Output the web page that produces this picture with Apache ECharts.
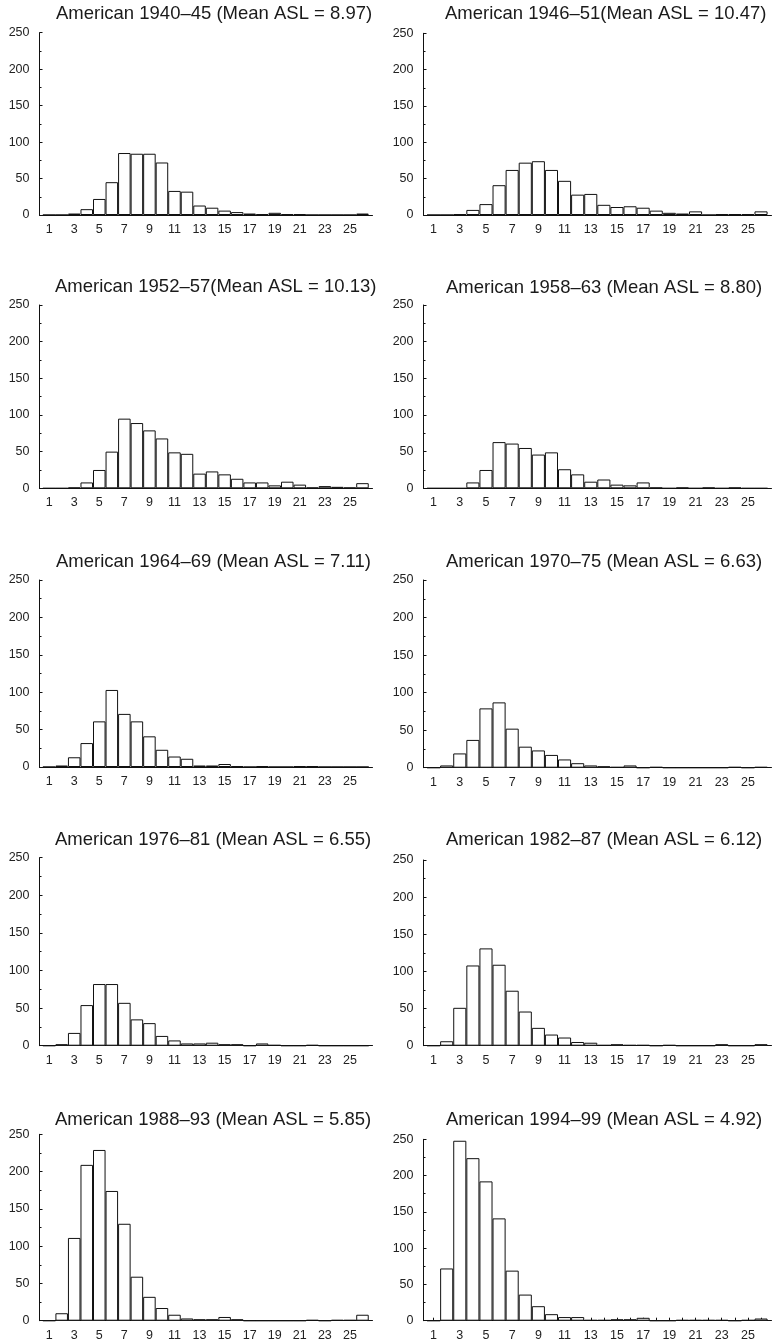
<!DOCTYPE html>
<html>
<head>
<meta charset="utf-8">
<script src="https://cdn.jsdelivr.net/npm/echarts@6/dist/echarts.min.js"></script>
<style>
html,body{margin:0;padding:0;background:#fff}
#main{width:772px;height:1344px}
</style>
</head>
<body>
<div id="main"></div>
<script>
// shot length bins (1..26) and the labels shown under each x axis
var bins = [1,2,3,4,5,6,7,8,9,10,11,12,13,14,15,16,17,18,19,20,21,22,23,24,25,26];
var xLabels = [1,3,5,7,9,11,13,15,17,19,21,23,25];

// counts per bin
var am1940 = [0,0,2,8,22,45,85,84,84,72,33,32,13,10,6,4,2,1,3,1,1,0,0,0,0,2];
var am1946 = [0,0,1,7,15,41,62,72,74,62,47,28,29,14,11,12,10,6,3,2,5,0,1,1,1,5];
var am1952 = [0,0,1,8,25,50,95,89,79,68,49,47,20,23,19,13,8,8,4,9,5,1,3,2,1,7];
var am1958 = [0,0,0,8,25,63,61,55,46,49,26,19,9,12,5,4,8,1,0,1,0,1,0,1,0,0];
var am1964 = [0,2,13,32,61,103,71,61,41,23,14,11,2,2,4,1,0,1,0,0,1,1,0,0,0,0];
var am1970 = [0,3,19,37,79,87,52,28,23,17,11,6,3,2,1,3,0,1,0,0,0,0,0,1,0,1];
var am1976 = [0,2,17,54,82,82,57,35,30,13,7,3,3,4,2,2,0,3,1,0,0,1,0,0,0,0];
var am1982 = [0,6,51,108,131,109,74,46,24,15,11,5,4,1,2,1,1,0,1,0,0,0,2,0,0,2];
var am1988 = [0,10,111,209,229,174,130,59,32,17,8,3,2,2,5,2,0,0,0,0,0,1,0,1,1,8];
var am1994 = [0,72,248,224,192,141,69,36,20,9,5,5,1,1,2,2,4,0,0,1,1,1,1,0,1,3];

var titles = [
    'American 1940\u201345 (Mean ASL = 8.97)',
    'American 1946\u201351(Mean ASL = 10.47)',
    'American 1952\u201357(Mean ASL = 10.13)',
    'American 1958\u201363 (Mean ASL = 8.80)',
    'American 1964\u201369 (Mean ASL = 7.11)',
    'American 1970\u201375 (Mean ASL = 6.63)',
    'American 1976\u201381 (Mean ASL = 6.55)',
    'American 1982\u201387 (Mean ASL = 6.12)',
    'American 1988\u201393 (Mean ASL = 5.85)',
    'American 1994\u201399 (Mean ASL = 4.92)'
];
var panels = [am1940, am1946, am1952, am1958, am1964, am1970, am1976, am1982, am1988, am1994];

// panel boxes: [gridLeft, gridWidth, gridTop, gridHeight, titleLeft, titleTop]
var boxes = [
    [39.5, 333, 32.7, 182.3, 56, 4],
    [423.5, 348, 33.3, 181.7, 445, 4],
    [39.5, 333, 305, 183.3, 55, 277.5],
    [423.5, 348, 305, 183.3, 446, 278.5],
    [39.5, 333, 580, 187, 56, 552],
    [423.5, 348, 580, 187.7, 446, 552.5],
    [39.5, 333, 857.7, 188, 55, 830],
    [423.5, 348, 860, 185.7, 446, 830],
    [39.5, 333, 1134.3, 186.4, 55, 1110],
    [423.5, 348, 1139.3, 181.4, 446, 1110]
];

var font = 'Liberation Sans, Arial, Helvetica, sans-serif';
var ink = '#111';

var chart = echarts.init(document.getElementById('main'));
var option = {
    backgroundColor: '#fff',
    animation: false,
    title: [],
    grid: [],
    xAxis: [],
    yAxis: [],
    series: []
};

panels.forEach(function (vals, i) {
    var b = boxes[i];
    option.title.push({
        text: titles[i],
        left: b[4],
        top: b[5],
        padding: 0,
        textStyle: {fontFamily: font, fontSize: 18.5, fontWeight: 'normal', color: '#1a1a1a'}
    });
    option.grid.push({
        left: b[0], top: b[2], width: b[1], height: b[3],
        outerBoundsMode: 'none'
    });
    option.xAxis.push({
        type: 'value',
        gridIndex: i,
        min: 0.23,
        max: 26.8,
        splitLine: {show: false},
        axisLine: {show: true, onZero: false, lineStyle: {color: ink, width: 1}},
        axisTick: {show: i === 9, inside: true, length: 3, customValues: bins, lineStyle: {color: ink}},
        axisLabel: {customValues: xLabels, color: '#222', fontSize: 12.5, fontFamily: font, margin: 8}
    });
    option.yAxis.push({
        type: 'value',
        gridIndex: i,
        min: 0,
        max: 250,
        interval: 50,
        splitLine: {show: false},
        axisLine: {show: true, lineStyle: {color: ink, width: 1}},
        axisTick: {show: true, inside: true, length: 3, lineStyle: {color: ink}},
        minorTick: {show: true, splitNumber: 2, length: 2, lineStyle: {color: ink}},
        axisLabel: {color: '#222', fontSize: 12.5, fontFamily: font, margin: 10}
    });
    option.series.push({
        type: 'bar',
        xAxisIndex: i,
        yAxisIndex: i,
        barCategoryGap: '0%',
        data: bins.map(function (x, j) { return [x, vals[j]]; }),
        itemStyle: {color: '#fff', borderColor: ink, borderWidth: 1}
    });
});

chart.setOption(option);
</script>
</body>
</html>
